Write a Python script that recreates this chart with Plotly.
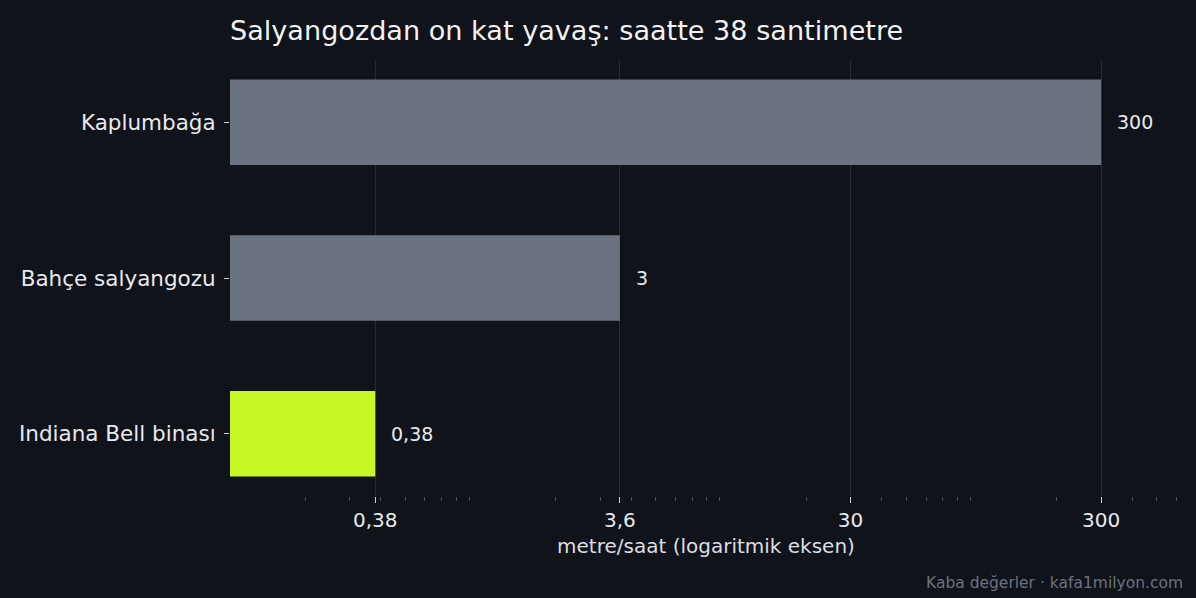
import math
import plotly.graph_objects as go

# bars, bottom to top
names = ["Indiana Bell binası", "Bahçe salyangozu", "Kaplumbağa"]
speeds = [0.38, 3.6, 300]
speed_labels = ["0,38", "3", "300"]
bar_colors = ["#c8f526", "#6b7280", "#6b7280"]

tick_vals = [0.38, 3.6, 30, 300]
tick_text = ["0,38", "3,6", "30", "300"]

BG = "#10131a"
TXT = "#e8e9ec"
FONT = "DejaVu Sans"

minor_vals = [m * 10 ** e for e in range(-1, 3) for m in range(2, 10) if m * 10 ** e < 630]

fig = go.Figure()
fig.add_trace(go.Bar(
    y=names, x=speeds, orientation="h",
    marker=dict(color=bar_colors, line=dict(width=0)),
    width=0.55, hoverinfo="skip",
))

# value labels next to the bar ends
for n, v, lab in zip(names, speeds, speed_labels):
    fig.add_annotation(x=math.log10(v), y=n, text=lab, showarrow=False,
                       xanchor="left", xshift=14, font=dict(size=19, color=TXT, family=FONT))

# footer
fig.add_annotation(xref="paper", yref="paper", x=1, y=-0.2, xshift=3,
                   text="Kaba değerler · kafa1milyon.com",
                   showarrow=False, xanchor="right", yanchor="middle",
                   font=dict(size=15.5, color="#6b7280", family=FONT))

fig.update_layout(
    width=1196, height=598,
    paper_bgcolor=BG, plot_bgcolor=BG,
    margin=dict(l=230, r=14, t=60, b=102),
    showlegend=False,
    font=dict(family=FONT, color=TXT),
    title=dict(text="Salyangozdan on kat yavaş: saatte 38 santimetre",
               xref="container", yref="container", x=230 / 1196, xanchor="left",
               y=1 - 31 / 598, yanchor="middle", font=dict(size=27.1, color="#f2f2f2", family=FONT)),
)

fig.update_xaxes(
    type="log", range=[-1, 2.8],
    tickmode="array", tickvals=tick_vals, ticktext=tick_text,
    ticks="outside", ticklen=6, tickwidth=1, tickcolor="#d0d3d9",
    tickfont=dict(size=20, color=TXT),
    showgrid=True, gridcolor="#262a33", gridwidth=1,
    showline=False, zeroline=False,
    minor=dict(tickmode="array", tickvals=minor_vals, ticks="outside", ticklen=4,
               tickcolor="#4a4f5a", tickwidth=1, showgrid=False),
    title=dict(text="metre/saat (logaritmik eksen)", font=dict(size=20, color="#dcdee2"), standoff=7),
)
fig.update_yaxes(
    type="category", range=[-0.4, 2.4],
    ticks="outside", ticklen=5, tickcolor="#d0d3d9",
    tickfont=dict(size=21.5, color=TXT),
    showgrid=False, showline=False, zeroline=False,
    ticklabelstandoff=4,
)

# page body has a default 8px margin; drop it so the figure fills the window
fig.write_html("out.html", config={"displayModeBar": False},
               post_script="document.body.style.margin='0';document.body.style.overflow='hidden';")
